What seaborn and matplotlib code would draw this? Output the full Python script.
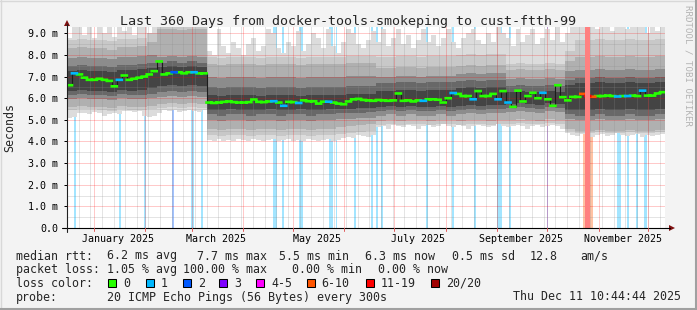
import numpy as np
import pandas as pd
import matplotlib
matplotlib.use("Agg")
import matplotlib.pyplot as plt
import matplotlib.dates as mdates
from matplotlib.patches import Rectangle, Polygon
from matplotlib.lines import Line2D
import seaborn as sns

# ---------------- data ----------------
period_start = "2024-12-16 10:44:44"
period_end = "2025-12-11 10:44:44"
median_bin_days = 3
smoke_bin_days = 6

# median RTT (ms), one value per 3-day bin
median_rtt_ms = [
    6.6, 7.15, 7.1, 6.95, 6.85, 6.85, 6.9, 6.85, 6.8, 6.55,
    6.85, 7.05, 6.85, 6.9, 6.95, 7.0, 7.1, 7.25, 7.7, 7.1,
    7.15, 7.2, 7.2, 7.15, 7.2, 7.2, 7.15, 7.15, 5.8, 5.78,
    5.8, 5.83, 5.85, 5.82, 5.8, 5.8, 5.82, 5.94, 5.83, 5.82,
    5.85, 5.86, 5.8, 5.65, 5.83, 5.82, 5.78, 5.9, 5.86, 5.86,
    5.75, 5.84, 5.84, 5.8, 5.75, 5.72, 5.85, 5.95, 5.97, 5.92,
    5.9, 5.88, 5.92, 5.9, 5.88, 5.9, 6.22, 5.88, 5.9, 5.85,
    5.9, 5.88, 5.95, 5.95, 5.93, 5.8, 6.0, 6.24, 6.2, 6.1,
    6.1, 5.95, 6.33, 6.1, 6.1, 6.2, 5.95, 6.33, 5.8, 5.6,
    6.35, 5.85, 6.1, 6.25, 6.0, 6.25, 5.95, 5.65, 6.6, 6.05,
    5.9, 6.06, 6.06, 6.2, 6.1, 6.07, 6.1, 6.1, 6.12, 6.1,
    6.08, 6.1, 6.1, 6.12, 6.1, 6.35, 6.12, 6.12, 6.22, 6.28,
]
# lost pings (of 20) per 3-day bin
median_loss_pings = [
    0, 1, 0, 0, 0, 0, 0, 0, 0, 0,
    1, 0, 0, 0, 0, 0, 0, 0, 0, 0,
    0, 2, 0, 0, 0, 1, 0, 0, 0, 0,
    0, 0, 0, 0, 0, 0, 0, 0, 0, 0,
    0, 1, 0, 1, 0, 0, 1, 0, 0, 0,
    0, 0, 1, 0, 0, 0, 0, 0, 0, 0,
    0, 0, 0, 0, 0, 0, 0, 0, 0, 0,
    0, 1, 0, 0, 0, 0, 0, 1, 0, 0,
    0, 1, 0, 0, 0, 0, 1, 0, 1, 0,
    0, 0, 0, 0, 0, 1, 0, 0, 0, 0,
    0, 0, 0, 8, 15, 8, 0, 0, 0, 0,
    1, 0, 1, 0, 0, 1, 0, 0, 0, 0,
]
# smoke envelope (ms), 3-day bins
smoke_min_ms = [
    5.1, 5.15, 5.3, 5.3, 5.25, 5.35, 5.3, 5.2, 5.25, 5.3,
    5.25, 5.4, 5.4, 5.35, 5.4, 5.2, 5.15, 5.2, 5.3, 5.45,
    5.4, 5.45, 5.35, 5.4, 5.45, 5.4, 5.35, 5.45,
    4.05, 4.0, 4.1, 4.0, 4.05, 4.0, 4.1, 4.05, 4.0, 4.1, 4.05, 4.0,
    4.05, 4.1, 4.0, 4.05, 4.1, 4.0, 4.05, 4.0, 4.1, 4.05,
    4.0, 4.05, 4.1, 4.0, 4.05, 4.15, 4.2, 4.15, 4.3, 4.25, 4.2, 4.3,
    4.65, 4.7, 4.6, 4.75, 4.7, 4.65, 4.75, 4.7,
    4.6, 4.7, 4.75, 4.65, 4.7, 4.8, 4.7, 4.65, 4.75, 4.7,
    4.6, 4.7, 4.75, 4.7, 4.65, 4.7, 4.8, 4.7, 4.65, 4.7,
    4.75, 4.7, 4.6, 4.7, 4.75, 4.65, 4.7, 4.75, 4.7, 4.6, 4.4,
    4.3, 4.25, 4.35, 4.3, 4.2, 4.3, 4.35, 4.25, 4.3,
    4.4, 4.3, 4.25, 4.3, 4.35, 4.2, 4.3, 4.25, 4.3, 4.35,
]
smoke_max_ms = [
    8.8, 9.3, 9.3, 8.9, 9.3, 8.8, 9.3, 9.0, 9.3, 8.85,
    9.3, 9.1, 9.3, 8.9, 9.3, 9.3, 9.0, 9.3, 9.3, 9.3,
    9.2, 9.3, 9.3, 9.3, 9.3, 9.3, 9.3, 9.3,
    8.2, 8.0, 9.2, 8.4, 8.1, 8.6, 8.3, 8.0, 8.5, 8.8, 8.2, 8.4,
    9.2, 9.0, 8.3, 8.1, 8.6, 8.4, 9.1, 8.2, 8.5, 9.0,
    8.8, 8.3, 9.2, 8.4, 8.1, 8.6, 9.2, 9.0, 8.5, 8.3, 8.7, 9.1,
    8.6, 9.2, 8.4, 8.8, 9.2, 8.5, 8.9, 8.3,
    8.7, 9.2, 8.6, 8.9, 8.4, 8.8, 9.2, 8.6, 8.3, 8.8,
    9.0, 9.2, 8.7, 8.5, 9.0, 8.6, 9.3, 9.0, 8.8, 8.4,
    9.2, 8.6, 8.9, 9.2, 8.5, 8.8, 9.2, 8.7, 9.3, 8.6, 9.0,
    9.3, 9.3, 9.3, 9.3, 9.3, 9.2, 9.3, 9.3, 9.1,
    9.3, 9.3, 9.2, 9.3, 9.3, 9.3, 9.0, 9.3, 9.1, 9.3,
]
# inner ping percentiles (ms), 6-day bins
smoke_p05_ms = [
    5.45, 5.5, 5.5, 5.45, 5.4, 5.5, 5.45, 5.45, 5.5,
    5.55, 5.6, 5.55, 5.6, 5.55,
    4.3, 4.25, 4.3, 4.3, 4.25, 4.3, 4.3, 4.25, 4.3, 4.3, 4.25, 4.3, 4.3, 4.35, 4.4, 4.45, 4.5,
    4.75, 4.8, 4.75, 4.8, 4.8, 4.75, 4.8, 4.8, 4.75, 4.8, 4.8, 4.75, 4.8,
    4.8, 4.85, 4.8, 4.8, 4.85, 4.8, 4.5,
    4.4, 4.4, 4.45, 4.4, 4.4, 4.45, 4.4, 4.4, 4.45,
]
smoke_p10_ms = [
    5.6, 5.65, 5.6, 5.6, 5.55, 5.65, 5.6, 5.6, 5.65,
    5.75, 5.8, 5.75, 5.8, 5.75,
    4.6, 4.55, 4.6, 4.6, 4.55, 4.6, 4.6, 4.55, 4.6, 4.6, 4.55, 4.6, 4.6, 4.65, 4.7, 4.75, 4.8,
    4.95, 5.0, 4.95, 5.0, 5.0, 4.95, 5.0, 5.0, 4.95, 5.0, 5.0, 4.95, 5.0,
    5.0, 5.05, 5.0, 4.95, 5.05, 5.0, 4.6,
    4.5, 4.5, 4.55, 4.5, 4.5, 4.55, 4.5, 4.5, 4.55,
]
smoke_p25_ms = [
    5.95, 6.0, 5.95, 5.95, 5.9, 6.0, 5.95, 5.95, 6.0,
    6.05, 6.1, 6.05, 6.1, 6.05,
    5.0, 4.95, 5.0, 5.0, 4.95, 5.0, 5.0, 4.95, 5.0, 5.0, 4.95, 5.0, 5.0, 5.05, 5.05, 5.1, 5.1,
    5.2, 5.25, 5.2, 5.25, 5.2, 5.2, 5.25, 5.2, 5.25, 5.3, 5.25, 5.3, 5.3,
    5.35, 5.4, 5.35, 5.3, 5.4, 5.35, 5.05,
    5.0, 5.0, 5.05, 5.0, 5.0, 5.05, 5.0, 5.0, 5.05,
]
smoke_p33_ms = [
    6.15, 6.2, 6.15, 6.15, 6.1, 6.2, 6.15, 6.15, 6.2,
    6.3, 6.35, 6.3, 6.35, 6.3,
    5.25, 5.2, 5.25, 5.25, 5.2, 5.25, 5.25, 5.2, 5.25, 5.25, 5.2, 5.25, 5.25, 5.3, 5.3, 5.3, 5.35,
    5.4, 5.45, 5.4, 5.45, 5.4, 5.4, 5.45, 5.4, 5.45, 5.5, 5.45, 5.5, 5.5,
    5.55, 5.6, 5.55, 5.5, 5.6, 5.55, 5.25,
    5.2, 5.2, 5.25, 5.2, 5.2, 5.25, 5.2, 5.2, 5.25,
]
smoke_p40_ms = [
    6.35, 6.4, 6.35, 6.35, 6.3, 6.4, 6.35, 6.4, 6.45,
    6.55, 6.6, 6.55, 6.6, 6.55,
    5.45, 5.45, 5.5, 5.45, 5.45, 5.45, 5.5, 5.45, 5.45, 5.5, 5.45, 5.45, 5.5, 5.5, 5.5, 5.55, 5.55,
    5.6, 5.65, 5.6, 5.65, 5.6, 5.6, 5.65, 5.6, 5.65, 5.7, 5.65, 5.7, 5.7,
    5.75, 5.8, 5.75, 5.7, 5.8, 5.75, 5.45,
    5.45, 5.45, 5.5, 5.45, 5.45, 5.5, 5.45, 5.45, 5.5,
]
smoke_p60_ms = [
    7.25, 7.3, 7.25, 7.25, 7.2, 7.3, 7.3, 7.35, 7.4,
    7.45, 7.5, 7.45, 7.5, 7.45,
    6.15, 6.1, 6.15, 6.15, 6.15, 6.1, 6.15, 6.15, 6.15, 6.1, 6.15, 6.15, 6.15, 6.15, 6.2, 6.2, 6.2,
    6.35, 6.35, 6.4, 6.4, 6.35, 6.4, 6.4, 6.4, 6.45, 6.5, 6.45, 6.5, 6.5,
    6.3, 6.35, 6.3, 6.3, 6.35, 6.3, 6.6,
    6.7, 6.7, 6.75, 6.7, 6.7, 6.75, 6.7, 6.7, 6.75,
]
smoke_p67_ms = [
    7.5, 7.55, 7.5, 7.5, 7.45, 7.55, 7.55, 7.6, 7.65,
    7.65, 7.7, 7.65, 7.7, 7.65,
    6.5, 6.45, 6.5, 6.5, 6.5, 6.45, 6.5, 6.5, 6.5, 6.45, 6.5, 6.5, 6.5, 6.5, 6.55, 6.55, 6.55,
    6.7, 6.7, 6.75, 6.75, 6.7, 6.75, 6.75, 6.75, 6.8, 6.85, 6.8, 6.85, 6.85,
    6.55, 6.6, 6.55, 6.55, 6.6, 6.55, 6.85,
    6.95, 6.95, 7.0, 6.95, 6.95, 7.0, 6.95, 6.95, 7.0,
]
smoke_p75_ms = [
    7.85, 7.9, 7.85, 7.85, 7.8, 7.9, 7.9, 7.95, 8.0,
    7.9, 7.95, 7.9, 7.95, 7.9,
    7.0, 6.95, 7.0, 7.0, 7.0, 6.95, 7.0, 7.0, 7.0, 6.95, 7.0, 7.0, 7.0, 7.0, 7.05, 7.05, 7.05,
    7.0, 7.0, 7.05, 7.05, 7.0, 7.05, 7.05, 7.05, 7.1, 7.15, 7.1, 7.15, 7.15,
    6.9, 6.95, 6.9, 6.9, 6.95, 6.9, 7.25,
    7.3, 7.3, 7.35, 7.3, 7.3, 7.35, 7.3, 7.3, 7.35,
]
smoke_p90_ms = [
    8.3, 8.35, 8.3, 8.3, 8.25, 8.35, 8.35, 8.4, 8.6,
    9.2, 9.2, 9.15, 9.2, 9.2,
    7.6, 7.55, 7.6, 7.6, 7.6, 7.55, 7.6, 7.6, 7.6, 7.55, 7.6, 7.6, 7.6, 7.6, 7.65, 7.65, 7.65,
    7.4, 7.4, 7.45, 7.45, 7.4, 7.45, 7.45, 7.45, 7.5, 7.55, 7.5, 7.55, 7.55,
    7.3, 7.35, 7.3, 7.3, 7.35, 7.3, 7.7,
    7.9, 7.9, 7.95, 7.9, 7.9, 7.95, 7.9, 7.9, 7.95,
]
smoke_p95_ms = [
    8.7, 8.75, 8.7, 8.7, 8.65, 8.75, 8.75, 8.8, 9.0,
    9.3, 9.3, 9.3, 9.3, 9.3,
    7.9, 7.85, 7.9, 7.9, 7.9, 7.85, 7.9, 7.9, 7.9, 7.85, 7.9, 7.9, 7.9, 7.9, 7.95, 7.95, 7.95,
    7.9, 7.9, 7.95, 7.95, 7.9, 7.95, 7.95, 7.95, 8.0, 8.05, 8.0, 8.05, 8.05,
    7.6, 7.65, 7.6, 7.6, 7.65, 7.6, 8.2,
    8.7, 8.7, 8.75, 8.7, 8.7, 8.75, 8.7, 8.7, 8.75,
]
# packet-loss events (days since period start)
loss_start_day = [4.2, 31.3, 46.4, 63.2, 74.7, 80.7, 124.0, 129.4, 139.7, 158.0,
                  161.7, 172.8, 183.0, 186.0, 189.0, 216.1, 231.8, 245.0, 258.6, 266.1,
                  288.7, 310.4, 311.9, 314.9, 331.4, 337.1, 342.6, 347.1]
loss_length_days = [1.2, 1.2, 1.2, 1.2, 1.8, 1.2, 2.4, 1.2, 2.4, 2.1,
                    0.9, 1.2, 1.2, 1.2, 1.2, 1.2, 1.2, 1.2, 3.3, 1.2,
                    0.6, 1.5, 3.0, 1.5, 2.1, 1.2, 1.2, 2.1]
loss_pings = [1, 1, 1, 2, 1, 1, 1, 1, 1, 1,
              1, 1, 1, 1, 1, 1, 1, 1, 1, 1,
              2, 8, 15, 8, 1, 1, 1, 1]

loss_legend_labels = ["0", "1", "2", "3", "4-5", "6-10", "11-19", "20/20"]
loss_legend_colors = ["#26ff00", "#00b8ff", "#0059ff", "#7e00ff",
                      "#ff00ff", "#ff5500", "#ff0000", "#a10000"]
loss_legend_upper = [0, 1, 2, 3, 5, 10, 19, 20]

y_tick_values = [0, 1, 2, 3, 4, 5, 6, 7, 8, 9]
x_label_months = ["2025-01-01", "2025-03-01", "2025-05-01",
                  "2025-07-01", "2025-09-01", "2025-11-01"]

title_text = "Last 360 Days from docker-tools-smokeping to cust-ftth-99"
rtt_stats = ["6.2 ms avg", "7.7 ms max", "5.5 ms min", "6.3 ms now", "0.5 ms sd", "12.8", "am/s"]
loss_stats = ["1.05 % avg", "100.00 % max", "0.00 % min", "0.00 % now"]
probe_text = "20 ICMP Echo Pings (56 Bytes) every 300s"
stamp_text = "Thu Dec 11 10:44:44 2025"

# ---------------- layout helpers ----------------
W, H, DPI = 697, 310, 100
sns.set_theme(style="white")
plt.rcParams["font.family"] = ["DejaVu Sans Mono", "DejaVu Sans"]

fig = plt.figure(figsize=(W / DPI, H / DPI), dpi=DPI, facecolor="#f3f3f3")


def fx(px):
    return px / W


def fy(py):
    return 1 - py / H


X0, X1, Y0, Y1 = 67, 665, 228, 27
PX_PER_MS = 21.63
ax = fig.add_axes([fx(X0), fy(Y0), (X1 - X0) / W, (Y0 - Y1) / H])
ax.set_facecolor("white")
for s in ax.spines.values():
    s.set_visible(False)

t0 = mdates.date2num(pd.Timestamp(period_start))
t1 = mdates.date2num(pd.Timestamp(period_end))
ax.set_xlim(t0, t1)
ax.set_ylim(0, (Y0 - Y1) / PX_PER_MS)


def loss_index(n):
    for i, up in enumerate(loss_legend_upper):
        if n <= up:
            return i
    return len(loss_legend_upper) - 1


def tint(hexcol, a):
    r, g, b = matplotlib.colors.to_rgb(hexcol)
    return (1 - a + a * r, 1 - a + a * g, 1 - a + a * b)


# loss bars (behind smoke; heavy loss shows through)
for d, L, n in zip(loss_start_day, loss_length_days, loss_pings):
    c = loss_legend_colors[loss_index(n)]
    if n >= 11:
        ax.axvspan(t0 + d, t0 + d + L, color=tint(c, 0.5), lw=0, zorder=3.5)
    else:
        ax.axvspan(t0 + d, t0 + d + L, color=tint(c, 0.36), lw=0, zorder=0.5)

# smoke
med_edges = t0 + median_bin_days * np.arange(len(median_rtt_ms) + 1)
smk_edges = t0 + smoke_bin_days * np.arange(len(smoke_p10_ms) + 1)


def band(edges, lo, hi, color, z):
    lo = np.asarray(lo, float)
    hi = np.asarray(hi, float)
    ax.fill_between(edges, np.r_[lo, lo[-1]], np.r_[hi, hi[-1]], step="post",
                    color=color, lw=0, zorder=z, antialiased=False)


band(med_edges, smoke_min_ms, smoke_max_ms, "#dcdcdc", 1.0)
band(smk_edges, smoke_p05_ms, smoke_p95_ms, "#c8c8c8", 1.1)
band(smk_edges, smoke_p10_ms, smoke_p90_ms, "#b0b0b0", 1.2)
band(smk_edges, smoke_p25_ms, smoke_p75_ms, "#8c8c8c", 1.3)
band(smk_edges, smoke_p33_ms, smoke_p67_ms, "#686868", 1.4)
band(smk_edges, smoke_p40_ms, smoke_p60_ms, "#444444", 1.5)

# grid
minor_col = (0.55, 0.55, 0.55, 0.45)
major_col = (1.0, 0.0, 0.0, 0.42)
dot = (0, (1, 1))
for v in np.arange(0.5, 9.3, 1.0):
    ax.axhline(v, color=minor_col, lw=0.72, ls=dot, zorder=2.6)
for v in y_tick_values[1:]:
    ax.axhline(v, color=major_col, lw=0.72, ls=dot, zorder=2.7)
weeks = pd.date_range(period_start, period_end, freq="W-MON")
months = pd.date_range(period_start, period_end, freq="MS")
for d in weeks:
    ax.axvline(mdates.date2num(d), color=minor_col, lw=0.72, ls=dot, zorder=2.6)
for d in months:
    ax.axvline(mdates.date2num(d), color=major_col, lw=0.72, ls=dot, zorder=2.7)

# median: thin dark step connectors, then loss-coloured horizontal bins
med = np.asarray(median_rtt_ms, float)
sns.lineplot(x=med_edges, y=np.r_[med, med[-1]], drawstyle="steps-post",
             color="#1c1c1c", lw=0.8, ax=ax, zorder=3, legend=False)
levels = np.array([loss_index(n) for n in median_loss_pings])
for li in np.unique(levels):
    xs, ys = [], []
    for i in np.where(levels == li)[0]:
        xs += [med_edges[i], med_edges[i + 1], np.nan]
        ys += [med[i], med[i], np.nan]
    ax.plot(xs, ys, color=loss_legend_colors[li], lw=1.9,
            solid_capstyle="projecting", snap=False, zorder=3.2 + 0.01 * li)

# ticks & labels
ax.set_yticks(y_tick_values)
ax.set_yticklabels(["0.0" if v == 0 else f"{v:.1f} m" for v in y_tick_values])
label_pos = [mdates.date2num(pd.Timestamp(m) + pd.Timedelta(days=15)) for m in x_label_months]
ax.set_xticks(label_pos)
ax.set_xticklabels([pd.Timestamp(m).strftime("%B %Y") for m in x_label_months])
ax.tick_params(axis="x", length=0, pad=4.2, labelsize=7.2, colors="#000000")
ax.tick_params(axis="y", length=2.2, width=0.72, pad=4.3, labelsize=7.2,
               colors="#000000", left=True)
ax.set_xlabel("")
ax.set_ylabel("")
ax.grid(False)

# axis lines with arrows
fig.add_artist(Line2D([fx(62), fx(670)], [fy(228), fy(228)], color="#000000", lw=0.8))
fig.add_artist(Line2D([fx(67), fx(67)], [fy(232), fy(24)], color="#202020", lw=0.8))
fig.add_artist(Polygon([[fx(669), fy(225)], [fx(675), fy(228)], [fx(669), fy(231)]],
                       closed=True, color="#7f1010", lw=0))
fig.add_artist(Polygon([[fx(64), fy(26)], [fx(67), fy(20)], [fx(70), fy(26)]],
                       closed=True, color="#7f1010", lw=0))
for d in months:
    xp = X0 + (mdates.date2num(d) - t0) / (t1 - t0) * (X1 - X0)
    fig.add_artist(Line2D([fx(xp), fx(xp)], [fy(228), fy(231)], color="#e06060", lw=0.72))

# texts
def T(x, y, s, size, **kw):
    fig.text(fx(x), fy(y), s, fontsize=size, va="baseline", ha="left", **kw)


fig.text(fx(348), fy(24.5), title_text, fontsize=9.6, ha="center", va="baseline")
fig.text(fx(10), fy(128), "Seconds", fontsize=8.4, rotation=90, ha="center", va="center")
fig.text(fx(688), fy(5), "RRDTOOL / TOBI OETIKER", fontsize=6.6, rotation=270,
         ha="center", va="top", color="#b4b4b4")

LS = 8.4
T(16, 259.5, "median rtt:", LS)
for s, x in zip(rtt_stats, [107.3, 196.7, 279.3, 365, 451.7, 530, 580]):
    T(x, 259.5, s, LS)
T(16, 273, "packet loss:", LS)
for s, x in zip(loss_stats, [107.3, 182.7, 291.7, 378.3]):
    T(x, 273, s, LS)
T(16, 287, "loss color:", LS)
box_x = [108.3, 145.7, 182.7, 219.3, 256.0, 306.7, 365.7, 431.0]
for bx, lab, col in zip(box_x, loss_legend_labels, loss_legend_colors):
    fig.add_artist(Rectangle((fx(bx), fy(286.5)), 8.0 / W, 8.0 / H, facecolor=col,
                             edgecolor="#000000", lw=0.75))
    T(bx + 15.0, 287, lab, LS)
T(16, 300.5, "probe:", LS)
T(107.3, 300.5, probe_text, LS)
T(513.3, 300.5, stamp_text, LS)

# frame
fig.add_artist(Line2D([0, 1], [fy(0.5), fy(0.5)], color="#d8d8d8", lw=1.0))
fig.add_artist(Line2D([fx(0.5), fx(0.5)], [0, 1], color="#d8d8d8", lw=1.0))
fig.add_artist(Line2D([0, 1], [fy(309), fy(309)], color="#a0a0a0", lw=1.5))
fig.add_artist(Line2D([fx(696), fx(696)], [0, 1], color="#a0a0a0", lw=1.5))

fig.savefig("out.png", dpi=DPI, facecolor=fig.get_facecolor())
